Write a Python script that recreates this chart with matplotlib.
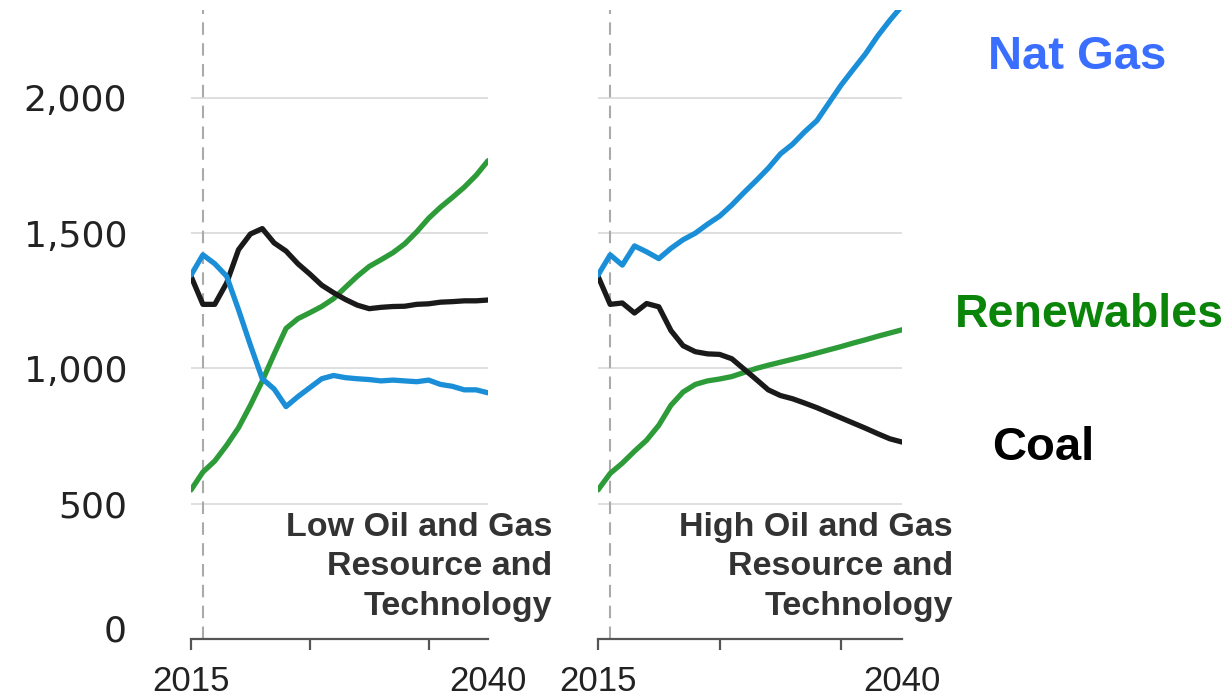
import matplotlib
matplotlib.use("Agg")
import matplotlib.pyplot as plt
import matplotlib.transforms as mtransforms

years = list(range(2015, 2041))

low_coal = [1341, 1237, 1237, 1316, 1439, 1497, 1517, 1464, 1434, 1387, 1349, 1308, 1280,
            1255, 1234, 1221, 1226, 1229, 1230, 1237, 1239, 1245, 1247, 1250, 1250, 1253]
low_gas = [1345, 1420, 1387, 1341, 1217, 1086, 962, 924, 859, 896, 929, 962, 974,
           966, 962, 959, 954, 957, 954, 951, 957, 941, 934, 921, 921, 910]
low_ren = [551, 617, 658, 716, 781, 864, 954, 1053, 1148, 1184, 1206, 1229, 1258,
           1300, 1341, 1377, 1402, 1428, 1461, 1505, 1555, 1596, 1632, 1670, 1714, 1768]

high_gas = [1345, 1420, 1382, 1453, 1431, 1406, 1444, 1476, 1500, 1533, 1563, 1604, 1650,
            1694, 1740, 1793, 1829, 1875, 1916, 1982, 2048, 2106, 2163, 2229, 2287, 2340]
high_coal = [1341, 1237, 1242, 1205, 1240, 1228, 1140, 1084, 1062, 1054, 1052, 1036, 998,
             960, 921, 900, 888, 872, 855, 836, 817, 798, 779, 759, 740, 728]
high_ren = [551, 612, 650, 694, 735, 790, 864, 913, 941, 954, 961, 970, 985,
            1000, 1012, 1023, 1034, 1045, 1057, 1069, 1081, 1094, 1106, 1119, 1131, 1143]

panel_titles = ["Low Oil and Gas\nResource and\nTechnology",
                "High Oil and Gas\nResource and\nTechnology"]
yticks = [0, 500, 1000, 1500, 2000]
ytick_labels = ["0", "500", "1,000", "1,500", "2,000"]
xticks = [2015, 2025, 2035, 2040]
xtick_labels = ["2015", "", "", "2040"]
history_year = 2016

C_GAS = "#1a8fd8"
C_COAL = "#1a1a1a"
C_REN = "#2c9b38"

fig = plt.figure(figsize=(12.32, 6.96), dpi=100)
W, H = 1232, 696
bottom = (H - 639) / H
height = 629 / H
ax1 = fig.add_axes([191 / W, bottom, 297 / W, height])
ax2 = fig.add_axes([598 / W, bottom, 304 / W, height])

panels = [(ax1, low_gas, low_coal, low_ren), (ax2, high_gas, high_coal, high_ren)]
for i, (ax, gas, coal, ren) in enumerate(panels):
    ax.set_xlim(2015, 2040)
    ax.set_ylim(0, 2325)
    for v in yticks[1:]:
        ax.axhline(v, color="#d9d9d9", lw=1.2, zorder=0)
    ax.axvline(history_year, color="#aaaaaa", lw=1.5, ls=(0, (6, 4)), zorder=1)
    ax.plot(years, ren, color=C_REN, lw=3.8, solid_capstyle="round", solid_joinstyle="round", zorder=3)
    ax.plot(years, coal, color=C_COAL, lw=3.8, solid_capstyle="round", solid_joinstyle="round", zorder=3)
    ax.plot(years, gas, color=C_GAS, lw=3.8, solid_capstyle="round", solid_joinstyle="round", zorder=4)
    for s in ["top", "right", "left"]:
        ax.spines[s].set_visible(False)
    ax.spines["bottom"].set_color("#555555")
    ax.spines["bottom"].set_linewidth(1.6)
    ax.set_xticks(xticks)
    ax.set_xticklabels(xtick_labels, fontsize=25, family="Liberation Sans", color="#222222")
    ax.tick_params(axis="x", direction="out", length=8, width=1.6, color="#555555", pad=11)
    ax.get_xaxis().get_major_ticks()[-1].tick1line.set_visible(False)
    ax.set_yticks(yticks)
    if i == 0:
        ax.set_yticklabels(ytick_labels, fontsize=26, family="DejaVu Sans", color="#222222")
        ax.tick_params(axis="y", length=0, pad=46)
        lab0 = ax.get_yticklabels()[0]
        lab0.set_transform(lab0.get_transform() +
                           mtransforms.ScaledTranslation(0, 8 / 72, fig.dpi_scale_trans))
    else:
        ax.set_yticklabels([])
        ax.tick_params(axis="y", length=0)
    ax.set_facecolor("none")

fig.text(552 / W, 1 - 512 / H, panel_titles[0], ha="right", va="top", fontsize=24.5,
         fontweight="bold", family="Liberation Sans", color="#333333", linespacing=1.35)
fig.text(953 / W, 1 - 512 / H, panel_titles[1], ha="right", va="top", fontsize=24.5,
         fontweight="bold", family="Liberation Sans", color="#333333", linespacing=1.35)

fig.text(988 / W, 1 - 69 / H, "Nat Gas", ha="left", va="baseline", fontsize=34,
         fontweight="bold", family="Liberation Sans", color="#3a6eff")
fig.text(955 / W, 1 - 327 / H, "Renewables", ha="left", va="baseline", fontsize=33.5,
         fontweight="bold", family="Liberation Sans", color="#0a850a")
fig.text(992 / W, 1 - 460 / H, "Coal", ha="left", va="baseline", fontsize=34,
         fontweight="bold", family="Liberation Sans", color="#000000")

fig.savefig("out.png", dpi=100, facecolor="white")
